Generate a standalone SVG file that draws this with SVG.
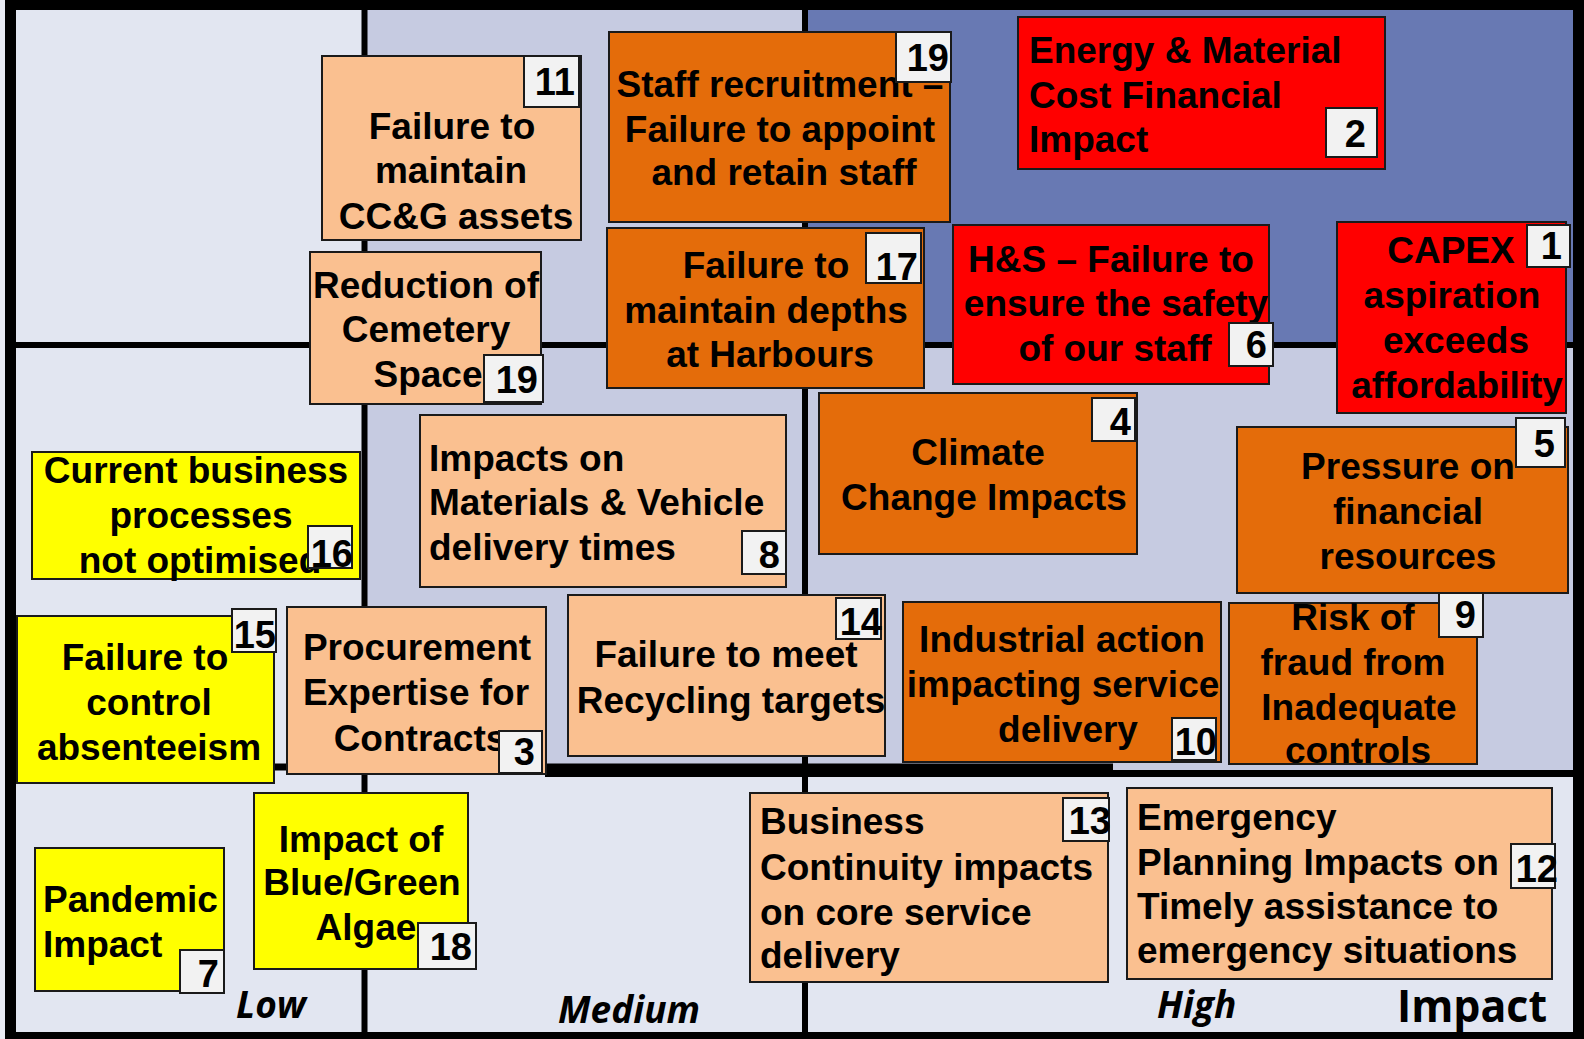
<svg xmlns="http://www.w3.org/2000/svg" width="1584" height="1039" viewBox="0 0 1584 1039">
<defs>
<style>
.box{stroke:#1a1a1a;stroke-width:2}
.peach{fill:#FAC090}
.dorange{fill:#E46C0A}
.red{fill:#FF0000}
.yellow{fill:#FFFF00}
.badge{fill:#F2F2F2;stroke:#1a1a1a;stroke-width:2}
.t{font-family:"Liberation Sans",Arial,sans-serif;font-weight:bold;font-size:37px;fill:#000}
.c{text-anchor:middle}
.n{font-family:"Liberation Sans",Arial,sans-serif;font-weight:bold;font-size:38px;text-anchor:end;fill:#000}
.ax{font-family:"Open Sans",sans-serif;font-style:italic;font-weight:bold;font-size:37px;fill:#000}
.div{stroke:#000;fill:none}
</style>
</defs>
<g id="background">
<rect x="0" y="0" width="1584" height="1039" fill="#E9EBF3"/>
<rect x="16" y="10" width="1557" height="1022" fill="#E2E6F1"/>
<rect x="364" y="10" width="441" height="335" fill="#C6CBE1"/>
<rect x="805" y="10" width="768" height="335" fill="#6879B3"/>
<rect x="364" y="345" width="1209" height="425" fill="#C6CBE1"/>
</g>
<g id="connectors">
<line class="div" x1="364.5" y1="10" x2="364.5" y2="1032" stroke-width="6"/>
<line class="div" x1="805" y1="10" x2="805" y2="1032" stroke-width="6"/>
<line class="div" x1="16" y1="345" x2="1573" y2="345" stroke-width="6"/>
<line class="div" x1="16" y1="767" x2="1113" y2="767" stroke-width="7"/>
<line class="div" x1="545" y1="773.5" x2="1573" y2="773.5" stroke-width="7"/>
<rect x="5" y="0" width="1579" height="10" fill="#000"/>
<rect x="5" y="0" width="11" height="1039" fill="#000"/>
<rect x="1573" y="0" width="11" height="1039" fill="#000"/>
<rect x="5" y="1032" width="1579" height="7" fill="#000"/>
</g>
<g id="node-11">
<rect class="box peach" x="322" y="56" width="259" height="184"/>
<text class="t c"><tspan x="452" y="139">Failure to</tspan><tspan x="451" y="183">maintain</tspan><tspan x="456" y="229">CC&amp;G assets</tspan></text>
<rect class="badge" x="524" y="56" width="55" height="51"/>
<text class="n" x="575" y="95">11</text>
</g>
<g id="node-19b">
<rect class="box peach" x="310" y="252" width="231" height="152"/>
<text class="t c"><tspan x="426" y="298">Reduction of</tspan><tspan x="426" y="342">Cemetery</tspan><tspan x="428" y="387">Space</tspan></text>
<rect class="badge" x="484" y="355" width="59" height="47"/>
<text class="n" x="538" y="393">19</text>
</g>
<g id="node-19">
<rect class="box dorange" x="609" y="32" width="341" height="190"/>
<text class="t c"><tspan x="780" y="97">Staff recruitment –</tspan><tspan x="780" y="142">Failure to appoint</tspan><tspan x="784" y="185">and retain staff</tspan></text>
<rect class="badge" x="896" y="32" width="55" height="50"/>
<text class="n" x="949" y="71">19</text>
</g>
<g id="node-17">
<rect class="box dorange" x="607" y="228" width="317" height="160"/>
<text class="t c"><tspan x="766" y="278">Failure to</tspan><tspan x="766" y="323">maintain depths</tspan><tspan x="770" y="367">at Harbours</tspan></text>
<rect class="badge" x="866" y="233" width="55" height="50"/>
<text class="n" x="918" y="280">17</text>
</g>
<g id="node-2">
<rect class="box red" x="1018" y="17" width="367" height="152"/>
<text class="t"><tspan x="1029" y="63">Energy &amp; Material</tspan><tspan x="1029" y="108">Cost Financial</tspan><tspan x="1029" y="152">Impact</tspan></text>
<rect class="badge" x="1326" y="108" width="51" height="49"/>
<text class="n" x="1366" y="147">2</text>
</g>
<g id="node-6">
<rect class="box red" x="953" y="225" width="316" height="159"/>
<text class="t c"><tspan x="1111" y="272">H&amp;S – Failure to</tspan><tspan x="1116" y="316">ensure the safety</tspan><tspan x="1115" y="361">of our staff</tspan></text>
<rect class="badge" x="1229" y="323" width="44" height="43"/>
<text class="n" x="1267" y="358">6</text>
</g>
<g id="node-1">
<rect class="box red" x="1337" y="222" width="229" height="191"/>
<text class="t c"><tspan x="1451" y="263">CAPEX</tspan><tspan x="1452" y="308">aspiration</tspan><tspan x="1456" y="353">exceeds</tspan><tspan x="1457" y="398">affordability</tspan></text>
<rect class="badge" x="1527" y="225" width="43" height="42"/>
<text class="n" x="1562" y="259">1</text>
</g>
<g id="node-16">
<rect class="box yellow" x="32" y="452" width="328" height="127"/>
<text class="t c"><tspan x="196" y="483">Current business</tspan><tspan x="201" y="528">processes</tspan><tspan x="200" y="573">not optimised</tspan></text>
<rect class="badge" x="308" y="526" width="44" height="42"/>
<text class="n" x="353" y="567">16</text>
</g>
<g id="node-15">
<rect class="box yellow" x="17" y="616" width="257" height="167"/>
<text class="t c"><tspan x="145" y="670">Failure to</tspan><tspan x="149" y="715">control</tspan><tspan x="149" y="760">absenteeism</tspan></text>
<rect class="badge" x="232" y="609" width="44" height="43"/>
<text class="n" x="276" y="648">15</text>
</g>
<g id="node-3">
<rect class="box peach" x="287" y="607" width="259" height="167"/>
<text class="t c"><tspan x="417" y="660">Procurement</tspan><tspan x="416" y="705">Expertise for</tspan><tspan x="420" y="751">Contracts</tspan></text>
<rect class="badge" x="499" y="731" width="43" height="42"/>
<text class="n" x="535" y="765">3</text>
</g>
<g id="node-8">
<rect class="box peach" x="420" y="415" width="366" height="172"/>
<text class="t"><tspan x="429" y="471">Impacts on</tspan><tspan x="429" y="515">Materials &amp; Vehicle</tspan><tspan x="429" y="560">delivery times</tspan></text>
<rect class="badge" x="742" y="531" width="44" height="43"/>
<text class="n" x="780" y="568">8</text>
</g>
<g id="node-14">
<rect class="box peach" x="568" y="595" width="317" height="161"/>
<text class="t c"><tspan x="726" y="667">Failure to meet</tspan><tspan x="731" y="713">Recycling targets</tspan></text>
<rect class="badge" x="836" y="598" width="45" height="41"/>
<text class="n" x="882" y="635">14</text>
</g>
<g id="node-4">
<rect class="box dorange" x="819" y="393" width="318" height="161"/>
<text class="t c"><tspan x="978" y="465">Climate</tspan><tspan x="984" y="510">Change Impacts</tspan></text>
<rect class="badge" x="1092" y="398" width="43" height="43"/>
<text class="n" x="1131" y="435">4</text>
</g>
<g id="node-10">
<rect class="box dorange" x="903" y="602" width="318" height="160"/>
<text class="t c"><tspan x="1062" y="652">Industrial action</tspan><tspan x="1063" y="697">impacting service</tspan><tspan x="1068" y="742">delivery</tspan></text>
<rect class="badge" x="1172" y="718" width="44" height="42"/>
<text class="n" x="1217" y="755">10</text>
</g>
<g id="node-5">
<rect class="box dorange" x="1237" y="427" width="331" height="166"/>
<text class="t c"><tspan x="1408" y="479">Pressure on</tspan><tspan x="1408" y="524">financial</tspan><tspan x="1408" y="569">resources</tspan></text>
<rect class="badge" x="1516" y="418" width="49" height="49"/>
<text class="n" x="1555" y="457">5</text>
</g>
<g id="node-9">
<rect class="box dorange" x="1229" y="603" width="248" height="161"/>
<text class="t c"><tspan x="1353" y="630">Risk of</tspan><tspan x="1353" y="675">fraud from</tspan><tspan x="1359" y="720">Inadequate</tspan><tspan x="1358" y="763">controls</tspan></text>
<rect class="badge" x="1439" y="593" width="44" height="44"/>
<text class="n" x="1476" y="628">9</text>
</g>
<g id="node-7">
<rect class="box yellow" x="35" y="848" width="189" height="143"/>
<text class="t"><tspan x="43" y="912">Pandemic</tspan><tspan x="43" y="957">Impact</tspan></text>
<rect class="badge" x="180" y="950" width="44" height="43"/>
<text class="n" x="219" y="987">7</text>
</g>
<g id="node-18">
<rect class="box yellow" x="254" y="793" width="214" height="176"/>
<text class="t c"><tspan x="361" y="852">Impact of</tspan><tspan x="362" y="895">Blue/Green</tspan><tspan x="366" y="940">Algae</tspan></text>
<rect class="badge" x="418" y="923" width="58" height="46"/>
<text class="n" x="472" y="960">18</text>
</g>
<g id="node-13">
<rect class="box peach" x="750" y="793" width="358" height="189"/>
<text class="t"><tspan x="760" y="834">Business</tspan><tspan x="760" y="880">Continuity impacts</tspan><tspan x="760" y="925">on core service</tspan><tspan x="760" y="968">delivery</tspan></text>
<rect class="badge" x="1063" y="798" width="46" height="43"/>
<text class="n" x="1111" y="834">13</text>
</g>
<g id="node-12">
<rect class="box peach" x="1127" y="788" width="425" height="191"/>
<text class="t"><tspan x="1137" y="830">Emergency</tspan><tspan x="1137" y="875">Planning Impacts on</tspan><tspan x="1137" y="919">Timely assistance to</tspan><tspan x="1137" y="963">emergency situations</tspan></text>
<rect class="badge" x="1511" y="844" width="44" height="44"/>
<text class="n" x="1558" y="882">12</text>
</g>
<g id="axis-labels">
<text class="ax" x="236" y="1018">Low</text>
<text class="ax" x="558" y="1023">Medium</text>
<text class="ax" x="1157" y="1018">High</text>
<text x="1397" y="1022" font-family="'Open Sans',sans-serif" font-weight="bold" font-size="45" textLength="150" lengthAdjust="spacingAndGlyphs" fill="#000">Impact</text>
</g>
</svg>
